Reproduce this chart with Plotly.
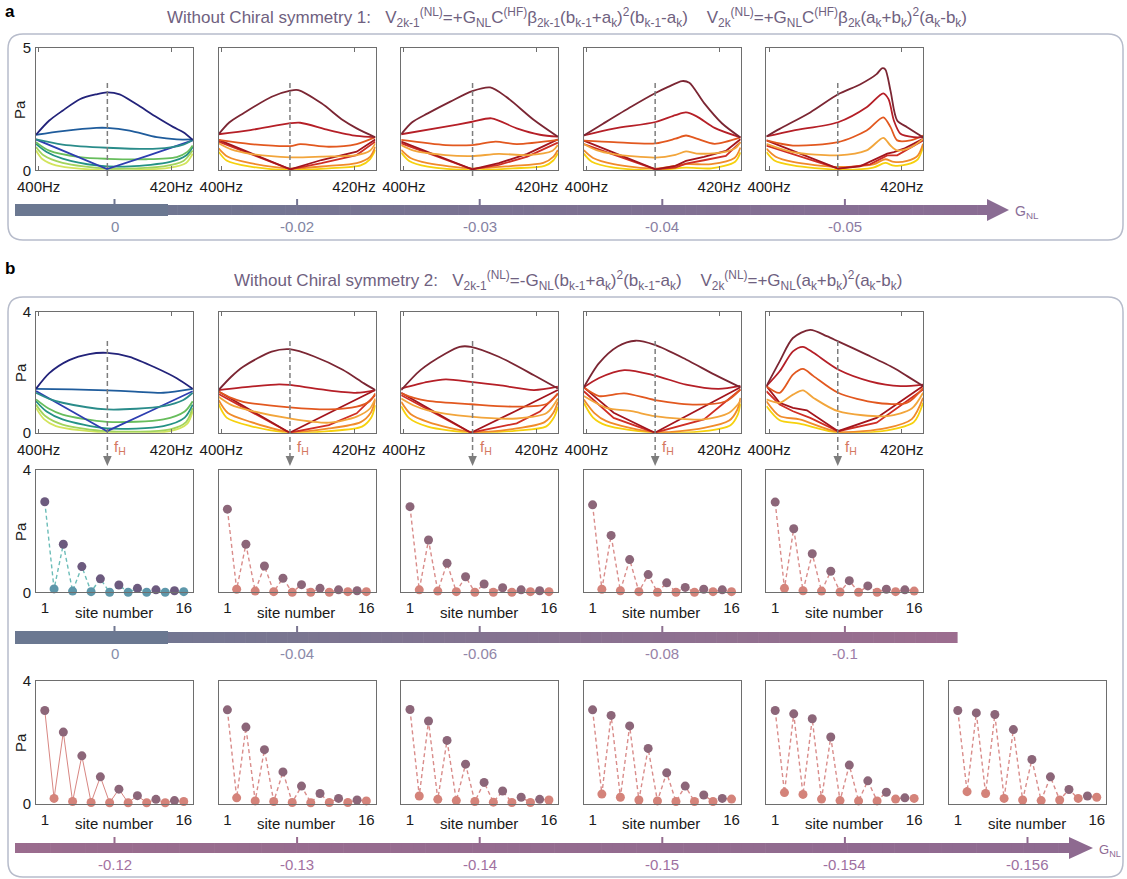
import plotly.graph_objects as go

PAGE_W, PAGE_H = 1127, 879
OFF = 0                                  # body margin removed by post_script
W, H = PAGE_W - OFF, PAGE_H - OFF
FONT = "Liberation Sans, Arial, Helvetica, sans-serif"

# ---------------------------------------------------------------- data
FH = 410.35                      # Hz, dashed f_H marker
FREQ_TICKS = [400, 420]
FREQ_TICKTEXT = ['400Hz', '420Hz']
SITES = list(range(1, 17))

GNL_A = ['0', '-0.02', '-0.03', '-0.04', '-0.05']
GNL_B2 = ['0', '-0.04', '-0.06', '-0.08', '-0.1']
GNL_B3 = ['-0.12', '-0.13', '-0.14', '-0.15', '-0.154', '-0.156']

# curve colours (cool set for G_NL = 0, warm set otherwise)
COOL = ['#23237a', '#1f5c9c', '#2a8c8a', '#2e3eb0', '#67bd5c', '#249284', '#a2d35c', '#d2e45c']
WARM = ['#7b2633', '#b51f27', '#e2581f', '#f2a53b', '#a3151d', '#cf2e25', '#f08b2b', '#f6d10d']
V_CURVE = [False, False, False, True, False, False, False, False]
V_CURVE_WARM = [False, False, False, False, True, True, False, False]

# each curve: (frequency Hz, pressure Pa)
A1 = [
    ([399.6, 401.6, 403.6, 406.2, 408.7, 410.3, 412.2, 414.7, 417.8, 420.3, 421.8, 423.2],
     [1.45, 2.03, 2.43, 2.9, 3.1, 3.18, 3.1, 2.7, 2.16, 1.76, 1.55, 1.24]),
    ([399.6, 403.6, 408.7, 410.3, 413.7, 417.8, 420.8, 423.2], [1.45, 1.6, 1.73, 1.73, 1.62, 1.35, 1.26, 1.26]),
    ([399.6, 403.6, 410.3, 417.8, 421.8, 423.2], [1.26, 1.05, 0.92, 0.88, 1.05, 1.24]),
    ([399.6, 405.0, 410.3, 416.7, 423.2], [1.26, 0.64, 0.05, 0.62, 1.22]),
    ([399.6, 401.6, 406.2, 410.3, 416.2, 420.8, 422.4, 423.2], [1.15, 0.8, 0.54, 0.47, 0.45, 0.54, 0.75, 1.01]),
    ([399.6, 401.2, 403.6, 408.7, 413.7, 419.8, 422.2, 423.2], [1.08, 0.75, 0.48, 0.2, 0.16, 0.34, 0.6, 0.95]),
    ([399.6, 400.8, 403.6, 410.3, 418.8, 421.8, 423.2], [0.95, 0.6, 0.3, 0.07, 0.16, 0.38, 0.81]),
    ([399.6, 400.6, 402.6, 410.3, 419.8, 422.2, 423.2], [0.81, 0.45, 0.2, 0.0, 0.11, 0.3, 0.68]),
]
A2 = [
    ([399.6, 401.2, 403.3, 407.6, 410.4, 411.6, 415.1, 418.3, 420.4, 423.2], [1.47, 1.95, 2.32, 3.0, 3.25, 3.27, 2.73, 2.05, 1.71, 1.35]),
    ([399.6, 404.4, 410.4, 411.9, 416.2, 420.4, 423.2], [1.47, 1.64, 1.92, 1.94, 1.64, 1.4, 1.35]),
    ([399.6, 404.4, 410.4, 411.9, 416.2, 420.4, 423.2], [1.24, 1.07, 0.99, 1.07, 0.96, 1.07, 1.35]),
    ([399.6, 401.5, 404.4, 410.4, 415.1, 420.4, 422.4, 423.2], [1.1, 0.85, 0.67, 0.53, 0.56, 0.62, 0.8, 1.1]),
    ([399.6, 405.0, 410.4, 415.1, 420.4, 423.2], [1.24, 0.64, 0.04, 0.42, 0.76, 1.26]),
    ([399.6, 405.0, 410.4, 415.1, 420.4, 423.2], [1.17, 0.6, 0.04, 0.29, 0.62, 1.17]),
    ([399.6, 401.0, 404.4, 410.4, 416.2, 420.4, 422.4, 423.2], [0.9, 0.55, 0.29, 0.08, 0.18, 0.29, 0.55, 0.96]),
    ([399.6, 400.8, 404.4, 410.4, 416.2, 421.0, 422.4, 423.2], [0.76, 0.4, 0.15, 0.01, 0.08, 0.2, 0.45, 0.83]),
]
A3 = [
    ([399.6, 401.2, 403.6, 407.0, 410.3, 413.0, 415.4, 419.6, 423.2], [1.47, 1.95, 2.32, 2.8, 3.23, 3.38, 3.0, 2.05, 1.37]),
    ([399.6, 406.3, 410.3, 413.2, 417.0, 420.5, 423.2], [1.47, 1.78, 1.98, 2.12, 1.71, 1.45, 1.37]),
    ([399.6, 406.3, 410.3, 413.8, 417.0, 423.2], [1.24, 1.03, 1.03, 1.17, 1.07, 1.24]),
    ([399.6, 401.5, 406.3, 410.3, 414.3, 418.6, 422.4, 423.2], [1.03, 0.8, 0.62, 0.58, 0.67, 0.62, 0.8, 1.03]),
    ([399.6, 405.0, 410.3, 414.3, 418.6, 423.2], [1.17, 0.6, 0.04, 0.29, 0.67, 1.26]),
    ([399.6, 405.0, 410.3, 414.3, 418.6, 423.2], [1.1, 0.57, 0.04, 0.22, 0.56, 1.13]),
    ([399.6, 401.0, 403.6, 410.3, 416.4, 421.0, 422.5, 423.2], [0.83, 0.5, 0.29, 0.08, 0.18, 0.3, 0.55, 0.83]),
    ([399.6, 400.8, 403.6, 410.3, 416.4, 421.2, 422.5, 423.2], [0.72, 0.38, 0.15, 0.01, 0.08, 0.18, 0.4, 0.69]),
]
A4 = [
    ([399.6, 402.5, 406.8, 410.4, 412.3, 414.4, 415.5, 417.7, 420.4, 423.2], [1.42, 1.9, 2.6, 3.15, 3.4, 3.64, 3.57, 2.75, 1.92, 1.34]),
    ([399.6, 404.1, 410.4, 413.4, 415.0, 416.6, 419.3, 423.2], [1.42, 1.7, 1.97, 2.25, 2.36, 2.2, 1.73, 1.34]),
    ([399.6, 404.1, 410.4, 413.4, 415.0, 416.6, 419.3, 423.2], [1.21, 1.15, 1.1, 1.29, 1.42, 1.29, 1.08, 1.34]),
    ([399.6, 401.5, 404.1, 410.4, 413.4, 415.0, 416.6, 420.4, 422.4, 423.2], [1.07, 0.82, 0.66, 0.52, 0.63, 0.77, 0.68, 0.73, 0.9, 1.15]),
    ([399.6, 405.0, 410.4, 413.4, 415.0, 417.7, 421.0, 423.2], [1.21, 0.62, 0.04, 0.18, 0.38, 0.55, 0.79, 1.27]),
    ([399.6, 405.0, 410.4, 413.4, 415.0, 417.7, 421.0, 423.2], [1.07, 0.55, 0.04, 0.11, 0.27, 0.41, 0.59, 1.15]),
    ([399.6, 401.0, 404.1, 410.4, 415.0, 418.8, 422.3, 423.2], [0.82, 0.5, 0.25, 0.07, 0.25, 0.25, 0.5, 0.93]),
    ([399.6, 400.8, 404.1, 410.4, 415.0, 418.8, 422.4, 423.2], [0.68, 0.35, 0.11, 0.0, 0.11, 0.08, 0.35, 0.73]),
]
A5 = [
    ([399.6, 401.6, 406.2, 410.4, 413.7, 416.2, 417.0, 417.5, 418.3, 419.3, 420.8, 423.2],
     [1.38, 1.69, 2.36, 3.1, 3.5, 3.92, 4.16, 4.12, 3.24, 2.03, 1.76, 1.35]),
    ([399.6, 403.6, 410.4, 414.7, 417.2, 418.0, 418.8, 419.8, 421.8, 423.2], [1.38, 1.62, 1.96, 2.57, 3.14, 2.9, 2.03, 1.49, 1.35, 1.35]),
    ([399.6, 403.6, 410.4, 414.7, 417.2, 418.3, 419.3, 421.3, 423.2], [1.22, 1.01, 1.15, 1.62, 2.16, 1.76, 1.22, 1.22, 1.42]),
    ([399.6, 403.6, 410.4, 414.7, 417.2, 418.3, 419.3, 421.3, 423.2], [1.08, 0.74, 0.61, 0.81, 1.32, 1.01, 0.81, 0.92, 1.28]),
    ([399.6, 405.0, 410.4, 413.7, 417.8, 418.8, 420.3, 423.2], [1.22, 0.64, 0.07, 0.16, 0.68, 0.74, 0.88, 1.28]),
    ([399.6, 405.0, 410.4, 415.2, 417.8, 419.3, 423.2], [1.01, 0.54, 0.07, 0.24, 0.61, 0.61, 1.22]),
    ([399.6, 401.0, 403.6, 410.4, 415.7, 417.5, 418.8, 420.8, 422.4, 423.2], [0.88, 0.55, 0.34, 0.14, 0.24, 0.45, 0.34, 0.38, 0.6, 1.08]),
    ([399.6, 400.8, 403.6, 410.4, 415.7, 417.5, 418.8, 420.8, 422.4, 423.2], [0.74, 0.4, 0.2, 0.03, 0.11, 0.3, 0.19, 0.24, 0.45, 0.95]),
]
B1 = [
    ([399.6, 401.6, 404.6, 407.6, 410.3, 413.7, 417.8, 420.8, 423.2], [1.45, 1.97, 2.4, 2.6, 2.64, 2.51, 2.13, 1.8, 1.45]),
    ([399.6, 405.0, 410.3, 414.5, 418.8, 423.2], [1.45, 1.43, 1.4, 1.36, 1.32, 1.45]),
    ([399.6, 401.6, 403.6, 410.3, 418.8, 421.8, 423.2], [1.32, 1.12, 0.99, 0.77, 0.88, 1.08, 1.32]),
    ([399.6, 405.0, 410.3, 416.7, 423.2], [1.38, 0.7, 0.05, 0.7, 1.37]),
    ([399.6, 401.5, 403.6, 410.3, 418.8, 422.0, 423.2], [1.1, 0.8, 0.6, 0.36, 0.44, 0.7, 1.04]),
    ([399.6, 401.2, 403.6, 410.3, 418.8, 422.0, 423.2], [1.04, 0.7, 0.44, 0.14, 0.22, 0.5, 0.93]),
    ([399.6, 401.0, 403.6, 410.3, 419.8, 422.2, 423.2], [0.93, 0.55, 0.27, 0.05, 0.11, 0.35, 0.82]),
    ([399.6, 400.8, 402.6, 410.3, 419.8, 422.4, 423.2], [0.82, 0.45, 0.22, 0.0, 0.05, 0.3, 0.71]),
]
B2 = [
    ([399.6, 401.5, 403.3, 407.6, 410.3, 414.0, 418.3, 421.5, 423.2], [1.41, 1.85, 2.18, 2.68, 2.76, 2.52, 2.08, 1.63, 1.41]),
    ([399.6, 404.4, 408.7, 410.3, 415.1, 420.4, 423.2], [1.41, 1.52, 1.6, 1.58, 1.43, 1.32, 1.41]),
    ([399.6, 401.5, 403.3, 410.3, 416.2, 420.4, 422.4, 423.2], [1.36, 1.15, 1.02, 0.84, 0.77, 0.86, 1.05, 1.3]),
    ([399.6, 401.5, 404.4, 410.3, 416.2, 420.4, 422.4, 423.2], [1.19, 0.92, 0.73, 0.47, 0.33, 0.53, 0.8, 1.13]),
    ([399.6, 405.0, 410.3, 416.7, 423.2], [1.36, 0.68, 0.0, 0.7, 1.41]),
    ([399.6, 405.0, 410.3, 416.2, 420.4, 423.2], [1.28, 0.62, 0.0, 0.25, 0.64, 1.24]),
    ([399.6, 401.0, 404.4, 410.3, 416.2, 421.0, 422.5, 423.2], [1.08, 0.65, 0.36, 0.03, 0.14, 0.35, 0.65, 1.08]),
    ([399.6, 400.8, 404.4, 410.3, 416.2, 421.2, 422.6, 423.2], [0.95, 0.5, 0.22, 0.0, 0.05, 0.2, 0.5, 0.91]),
]
B3 = [
    ([399.6, 402.5, 406.3, 408.4, 410.1, 414.3, 419.6, 423.2], [1.41, 2.07, 2.62, 2.84, 2.84, 2.51, 1.9, 1.46]),
    ([399.6, 403.6, 406.3, 410.1, 414.3, 419.6, 423.2], [1.46, 1.68, 1.76, 1.68, 1.57, 1.41, 1.52]),
    ([399.6, 401.5, 403.6, 410.1, 417.0, 421.5, 423.2], [1.3, 1.15, 1.05, 0.94, 0.86, 0.95, 1.3]),
    ([399.6, 401.5, 403.6, 410.1, 417.0, 421.5, 423.2], [1.13, 0.9, 0.74, 0.53, 0.47, 0.65, 1.13]),
    ([399.6, 405.0, 410.1, 416.7, 423.2], [1.32, 0.65, 0.0, 0.7, 1.41]),
    ([399.6, 405.0, 410.1, 417.0, 420.5, 423.2], [1.24, 0.6, 0.0, 0.31, 0.7, 1.28]),
    ([399.6, 401.0, 403.6, 410.1, 417.0, 421.2, 422.5, 423.2], [1.02, 0.62, 0.36, 0.03, 0.14, 0.35, 0.65, 1.02]),
    ([399.6, 400.8, 403.6, 410.1, 417.0, 421.4, 422.6, 423.2], [0.88, 0.48, 0.2, 0.0, 0.07, 0.2, 0.5, 0.86]),
]
B4 = [
    ([399.6, 401.9, 404.7, 407.4, 410.3, 415.0, 419.3, 423.2], [1.5, 2.3, 2.85, 3.04, 2.9, 2.42, 1.92, 1.5]),
    ([399.6, 401.9, 405.7, 410.3, 415.0, 419.9, 423.2], [1.5, 1.81, 2.07, 1.89, 1.59, 1.45, 1.55]),
    ([399.6, 401.9, 405.7, 410.3, 416.6, 421.0, 423.2], [1.5, 1.21, 1.3, 1.08, 0.93, 1.04, 1.43]),
    ([399.6, 403.0, 406.8, 410.3, 417.7, 421.5, 423.2], [1.21, 0.82, 0.71, 0.55, 0.44, 0.66, 1.04]),
    ([399.6, 404.1, 410.3, 416.7, 423.2], [1.5, 0.66, 0.0, 0.75, 1.5]),
    ([399.6, 404.1, 410.3, 417.7, 423.2], [1.37, 0.49, 0.0, 0.44, 1.43]),
    ([399.6, 401.2, 403.0, 410.3, 417.7, 421.5, 422.7, 423.2], [1.1, 0.65, 0.38, 0.02, 0.16, 0.4, 0.75, 1.15]),
    ([399.6, 401.0, 403.0, 410.3, 417.7, 421.7, 422.8, 423.2], [0.99, 0.5, 0.24, 0.0, 0.05, 0.25, 0.6, 0.97]),
]
B5 = [
    ([399.6, 401.6, 403.6, 406.2, 408.7, 410.4, 414.7, 418.8, 420.8, 423.2], [1.54, 2.36, 3.13, 3.4, 3.19, 3.02, 2.58, 2.14, 1.87, 1.54]),
    ([399.6, 401.6, 403.6, 405.1, 406.7, 410.4, 415.2, 419.8, 423.2], [1.54, 2.03, 2.69, 2.84, 2.64, 2.09, 1.7, 1.54, 1.59]),
    ([399.6, 401.6, 403.6, 405.1, 406.7, 410.4, 416.2, 420.8, 423.2], [1.54, 1.32, 1.92, 2.11, 1.87, 1.32, 0.99, 0.99, 1.48]),
    ([399.6, 401.6, 403.6, 405.1, 406.7, 410.4, 417.8, 421.5, 423.2], [1.10, 0.99, 1.26, 1.40, 1.15, 0.71, 0.55, 0.8, 1.32]),
    ([399.6, 401.6, 403.6, 405.7, 410.4, 416.2, 423.2], [1.54, 0.99, 0.82, 0.74, 0.05, 0.49, 1.54]),
    ([399.6, 401.6, 403.6, 406.2, 410.4, 416.2, 423.2], [1.37, 0.93, 0.71, 0.49, 0.05, 0.33, 1.43]),
    ([399.6, 401.6, 404.6, 410.4, 417.8, 421.5, 423.2], [1.04, 0.55, 0.44, 0.03, 0.16, 0.45, 1.15]),
    ([399.6, 401.6, 404.6, 410.4, 417.8, 421.8, 423.2], [0.88, 0.41, 0.30, 0.0, 0.08, 0.35, 0.99]),
]

# site amplitudes at f_H (Pa), sites 1..16
SITE_B2 = [
    [2.96, 0.11, 1.57, 0.04, 0.84, 0.02, 0.44, 0.0, 0.24, 0.0, 0.13, 0.0, 0.08, 0.0, 0.05, 0.02],
    [2.72, 0.10, 1.57, 0.04, 0.86, 0.02, 0.46, 0.0, 0.25, 0.0, 0.13, 0.0, 0.08, 0.02, 0.05, 0.02],
    [2.80, 0.08, 1.71, 0.04, 0.95, 0.02, 0.51, 0.0, 0.27, 0.0, 0.15, 0.0, 0.08, 0.02, 0.05, 0.02],
    [2.86, 0.10, 1.86, 0.05, 1.07, 0.02, 0.58, 0.0, 0.31, 0.0, 0.16, 0.0, 0.10, 0.02, 0.08, 0.02],
    [2.95, 0.13, 2.08, 0.05, 1.26, 0.04, 0.69, 0.01, 0.38, 0.0, 0.21, 0.0, 0.10, 0.02, 0.08, 0.04],
]
SITE_B3 = [
    [3.03, 0.18, 2.33, 0.08, 1.56, 0.05, 0.88, 0.04, 0.48, 0.04, 0.27, 0.04, 0.15, 0.04, 0.11, 0.08],
    [3.05, 0.20, 2.49, 0.10, 1.76, 0.08, 1.04, 0.05, 0.58, 0.04, 0.34, 0.05, 0.18, 0.05, 0.13, 0.10],
    [3.06, 0.26, 2.69, 0.15, 2.06, 0.11, 1.29, 0.08, 0.70, 0.06, 0.42, 0.05, 0.22, 0.05, 0.15, 0.13],
    [3.05, 0.32, 2.87, 0.22, 2.53, 0.13, 1.80, 0.10, 1.01, 0.08, 0.58, 0.08, 0.29, 0.08, 0.18, 0.16],
    [3.03, 0.37, 2.92, 0.31, 2.76, 0.16, 2.17, 0.11, 1.26, 0.10, 0.75, 0.10, 0.38, 0.16, 0.20, 0.18],
    [3.03, 0.40, 2.95, 0.34, 2.90, 0.18, 2.41, 0.13, 1.44, 0.11, 0.88, 0.13, 0.47, 0.18, 0.26, 0.22],
]

# ---------------------------------------------------------------- layout helpers (page pixels)
COLX = [36, 218.6, 401.2, 583.8, 766.4, 949]
BOXW = 157
ROW_A = (47.7, 170.3)
ROW_B1 = (311.7, 432.7)
ROW_B2 = (470.0, 592.3)
ROW_B3 = (680.5, 804.0)
AXC = '#6e6e6e'
TXT = '#1a1a1a'


def px(x):
    return (x - OFF) / W


def py(y):
    return 1 - (y - OFF) / H


def hex2rgb(h):
    h = h.lstrip('#')
    return tuple(int(h[i:i + 2], 16) for i in (0, 2, 4))


def mix(c0, c1, t):
    a, b = hex2rgb(c0), hex2rgb(c1)
    return 'rgb(%d,%d,%d)' % tuple(round(a[i] + (b[i] - a[i]) * t) for i in range(3))


fig = go.Figure()
layout = {}
shapes = []
annotations = []
counter = [0]


def note(text, x, y, size=15, color=TXT, xanchor='center', **kw):
    d = dict(text=text, x=px(x), y=py(y), xref='paper', yref='paper', xanchor=xanchor, yanchor='middle',
             showarrow=False, font=dict(size=size, color=color, family=FONT))
    d.update(kw)
    annotations.append(d)


def new_axes(col, row, kind, ymax, first_col):
    counter[0] += 1
    k = counter[0]
    xs = '' if k == 1 else str(k)
    x0 = COLX[col]
    ytop, ybot = row
    xa = dict(domain=[px(x0), px(x0 + BOXW)], anchor='y' + xs, showgrid=False, zeroline=False,
              showline=True, linecolor=AXC, linewidth=1, mirror=True, automargin=False,
              tickfont=dict(size=15, color=TXT, family=FONT))
    if kind == 'freq':
        xa.update(range=[399.6, 423.25], tickvals=FREQ_TICKS, ticktext=FREQ_TICKTEXT,
                  ticks='inside', ticklen=4, tickcolor=AXC, mirror='ticks', ticklabelstandoff=3)
    else:
        xa.update(range=[0.05, 17.0], tickvals=[1, 16], ticktext=['1', '16'], ticks='', ticklabelstandoff=2)
    ya = dict(domain=[py(ybot), py(ytop)], anchor='x' + xs, range=[0, ymax], showgrid=False,
              zeroline=False, showline=True, linecolor=AXC, linewidth=1, mirror=True, automargin=False,
              tickfont=dict(size=15, color=TXT, family=FONT))
    if first_col:
        ya.update(tickvals=[0, ymax], ticks='inside', ticklen=4, tickcolor=AXC, ticklabelstandoff=1)
    else:
        ya.update(showticklabels=False, ticks='')
    layout['xaxis' + xs] = xa
    layout['yaxis' + xs] = ya
    return 'x' + xs, 'y' + xs


def freq_panel(col, row, ymax, curves, colors, vflags, dash_top, dash_bot):
    xr, yr = new_axes(col, row, 'freq', ymax, col == 0)
    for i in reversed(range(len(curves))):
        f, p = curves[i]
        shape = 'linear' if vflags[i] else 'spline'
        fig.add_trace(go.Scatter(x=f, y=p, mode='lines', xaxis=xr, yaxis=yr, hoverinfo='skip',
                                 line=dict(color=colors[i], width=1.8, shape=shape, smoothing=0.8)))
    shapes.append(dict(type='line', xref=xr, yref='paper', x0=FH, x1=FH, y0=py(dash_top), y1=py(dash_bot),
                       line=dict(color='#7d7d7d', width=1.5, dash='5px,3px'), layer='above'))
    return xr, yr


def site_panel(col, row, label_y, vals, first_col, odd_c, even_c, line_c, dash):
    xr, yr = new_axes(col, row, 'site', 4, first_col)
    mc = [odd_c if s % 2 == 1 else even_c for s in SITES]
    fig.add_trace(go.Scatter(x=SITES, y=vals, mode='lines+markers', xaxis=xr, yaxis=yr, hoverinfo='skip',
                             cliponaxis=False,
                             line=dict(color=line_c, width=1.4 if dash else 1.0, dash='4px,3px' if dash else 'solid'),
                             marker=dict(size=9, color=mc, line=dict(width=0))))
    note('site number', COLX[col] + BOXW / 2 - 1, label_y)


# ---------------------------------------------------------------- panel a
for c, curves in enumerate([A1, A2, A3, A4, A5]):
    freq_panel(c, ROW_A, 5, curves, COOL if c == 0 else WARM, V_CURVE if c == 0 else V_CURVE_WARM, 83, 177)

# ---------------------------------------------------------------- panel b, row 1
for c, curves in enumerate([B1, B2, B3, B4, B5]):
    xr, yr = freq_panel(c, ROW_B1, 4, curves, COOL if c == 0 else WARM, V_CURVE if c == 0 else V_CURVE_WARM, 341, 457)
    shapes.append(dict(type='path', xref=xr, yref='paper', fillcolor='#7d7d7d', line=dict(width=0),
                       path='M %f,%f L %f,%f L %f,%f Z' % (FH - 0.65, py(456), FH + 0.65, py(456), FH, py(466))))
    annotations.append(dict(text='f<sub>H</sub>', x=FH, xref=xr, xanchor='left', xshift=5, y=py(447), yref='paper',
                            yanchor='middle', showarrow=False, font=dict(size=15, color='#d4775f', family=FONT)))

# ---------------------------------------------------------------- panel b, site rows
for c, vals in enumerate(SITE_B2):
    if c == 0:
        site_panel(c, ROW_B2, 612, vals, True, '#6c5a7e', '#5d97aa', '#6cbdb8', True)
    else:
        site_panel(c, ROW_B2, 612, vals, False, '#8c6679', '#d4837a', '#d98c8a', True)
for c, vals in enumerate(SITE_B3):
    site_panel(c, ROW_B3, 823, vals, c == 0, '#8c6679', '#d4837a', '#d98c8a' if c > 0 else '#d88682', c > 0)

# ---------------------------------------------------------------- decorations


def rounded_box(x0, y0, x1, y1, r):
    pts = ('M {a},{b} L {c},{b} Q {x1},{b} {x1},{d} L {x1},{e} Q {x1},{f} {c},{f} '
           'L {a},{f} Q {x0},{f} {x0},{e} L {x0},{d} Q {x0},{b} {a},{b} Z')
    path = pts.format(a=px(x0 + r), c=px(x1 - r), b=py(y0), d=py(y0 + r), e=py(y1 - r), f=py(y1),
                      x0=px(x0), x1=px(x1))
    shapes.append(dict(type='path', xref='paper', yref='paper', path=path,
                       line=dict(color='#b7bccb', width=1.5), layer='below'))


rounded_box(8, 34, 1123, 240, 15)
rounded_box(8, 297, 1123, 877, 15)


def grad_bar(x0, x1, y0, y1, c0, c1, n=90):
    step = (x1 - x0) / n
    for i in range(n):
        col = mix(c0, c1, (i + 0.5) / n)
        shapes.append(dict(type='rect', xref='paper', yref='paper', x0=px(x0 + i * step), x1=px(x0 + (i + 1) * step + 0.6),
                           y0=py(y1), y1=py(y0), fillcolor=col, line=dict(width=0), layer='above'))


def bar_ticks(xs, x0, x1, ytop, c0, c1, labels, lab_y, l0, l1):
    for i, x in enumerate(xs):
        t = (x - x0) / (x1 - x0)
        shapes.append(dict(type='rect', xref='paper', yref='paper', x0=px(x - 1), x1=px(x + 1),
                           y0=py(ytop), y1=py(ytop - 6), fillcolor=mix(c0, c1, t), line=dict(width=0)))
        note(labels[i], x, lab_y, size=15, color=mix(l0, l1, t))


centers = [cx + BOXW / 2 for cx in COLX]

# bar a
grad_bar(15, 988, 205, 215, '#6b7891', '#8a6c93')
shapes.append(dict(type='rect', xref='paper', yref='paper', x0=px(15), x1=px(168), y0=py(216), y1=py(204),
                   fillcolor='#6b7891', line=dict(width=0)))
shapes.append(dict(type='path', xref='paper', yref='paper', fillcolor='#8a6c93', line=dict(width=0),
                   path='M %f,%f L %f,%f L %f,%f Z' % (px(987), py(199), px(1009), py(210), px(987), py(221))))
bar_ticks(centers[:5], 15, 1009, 205, '#6b7891', '#8a6c93', GNL_A, 227, '#7d8aa3', '#9079a3')
note('G<sub>NL</sub>', 1013, 212, size=14, color='#8a6e98', xanchor='left')

# bar b row 2
grad_bar(15, 957, 632, 643, '#6b7891', '#9c6d8f')
shapes.append(dict(type='rect', xref='paper', yref='paper', x0=px(15), x1=px(168), y0=py(644), y1=py(631),
                   fillcolor='#6b7891', line=dict(width=0)))
bar_ticks(centers[:5], 15, 957, 632, '#6b7891', '#9c6d8f', GNL_B2, 653, '#8290aa', '#a07ba6')

# bar b row 3
grad_bar(15, 1070, 843, 853, '#9a6c8e', '#8e6a90')
shapes.append(dict(type='path', xref='paper', yref='paper', fillcolor='#8e6a90', line=dict(width=0),
                   path='M %f,%f L %f,%f L %f,%f Z' % (px(1069), py(837), px(1093), py(848), px(1069), py(859))))
bar_ticks(centers, 15, 1093, 843, '#9a6c8e', '#8e6a90', GNL_B3, 864, '#a5729f', '#9a70a0')
note('G<sub>NL</sub>', 1097, 850, size=13, color='#8e6a93', xanchor='left')

# panel letters and titles
note('<b>a</b>', 3, 11, size=17, color='#000', xanchor='left')
note('<b>b</b>', 3, 268, size=17, color='#000', xanchor='left')

SP = '\u00a0'
TITLE_A = ('Without Chiral symmetry 1:' + SP * 3 +
           'V<sub>2k-1</sub><sup>(NL)</sup>=+G<sub>NL</sub>C<sup>(HF)</sup>β<sub>2k-1</sub>(b<sub>k-1</sub>+a<sub>k</sub>)'
           '<sup>2</sup>(b<sub>k-1</sub>-a<sub>k</sub>)' + SP * 4 +
           'V<sub>2k</sub><sup>(NL)</sup>=+G<sub>NL</sub>C<sup>(HF)</sup>β<sub>2k</sub>(a<sub>k</sub>+b<sub>k</sub>)'
           '<sup>2</sup>(a<sub>k</sub>-b<sub>k</sub>)')
TITLE_B = ('Without Chiral symmetry 2:' + SP * 3 +
           'V<sub>2k-1</sub><sup>(NL)</sup>=-G<sub>NL</sub>(b<sub>k-1</sub>+a<sub>k</sub>)<sup>2</sup>(b<sub>k-1</sub>-a<sub>k</sub>)'
           + SP * 4 +
           'V<sub>2k</sub><sup>(NL)</sup>=+G<sub>NL</sub>(a<sub>k</sub>+b<sub>k</sub>)<sup>2</sup>(a<sub>k</sub>-b<sub>k</sub>)')
note(TITLE_A, 567, 18, size=17, color='#6f6180')
note(TITLE_B, 568, 280, size=17, color='#6f6180')

# y labels
for yc in (110, 373, 532, 743):
    note('Pa', 20, yc, size=15, textangle=-90)

fig.update_layout(**layout)
fig.update_layout(template='none', width=W, height=H, margin=dict(l=0, r=0, t=0, b=0, autoexpand=False),
                  paper_bgcolor='white', plot_bgcolor='rgba(0,0,0,0)', showlegend=False,
                  shapes=shapes, annotations=annotations, font=dict(family=FONT))
fig.write_html("out.html", config={'displayModeBar': False},
               post_script="document.body.style.margin='0px';document.body.style.overflow='hidden';")
